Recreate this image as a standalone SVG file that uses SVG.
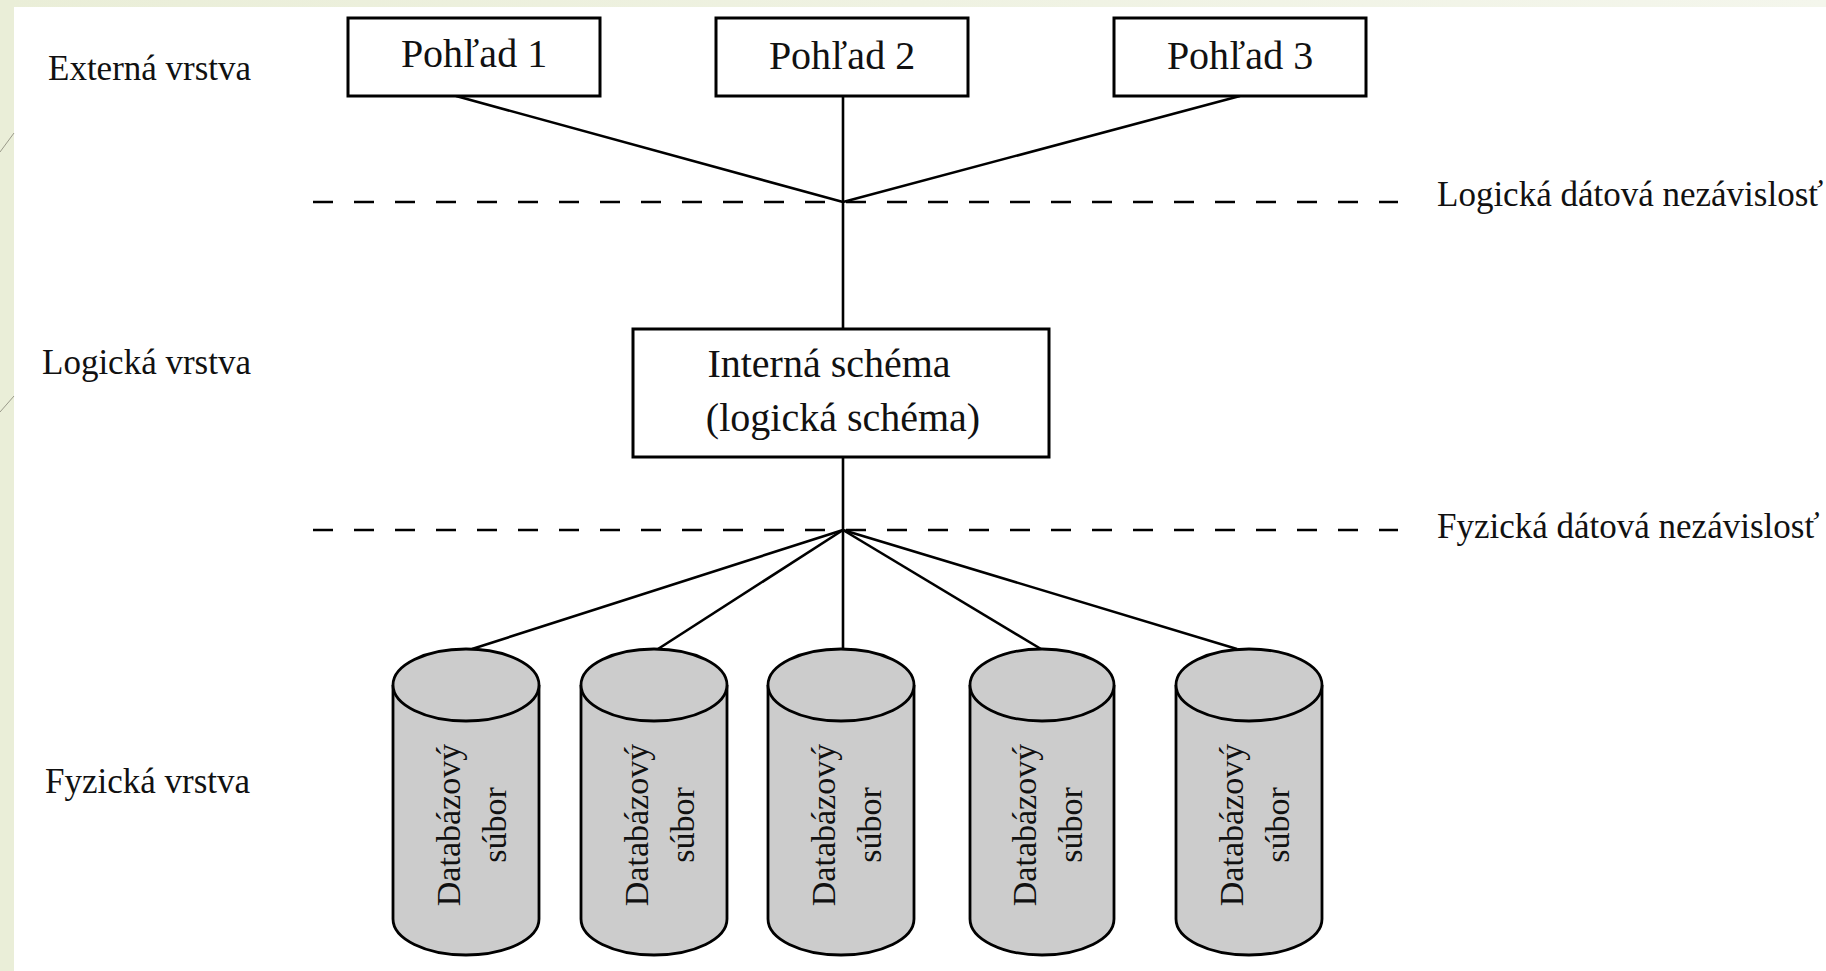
<svg xmlns="http://www.w3.org/2000/svg" width="1826" height="971" viewBox="0 0 1826 971">
<defs>
<linearGradient id="topband" x1="0" y1="0" x2="1" y2="0">
<stop offset="0" stop-color="#eaeed8"/>
<stop offset="1" stop-color="#f4f6ec"/>
</linearGradient>
</defs>
<style>
.t{font-family:"Liberation Serif","Times New Roman",serif;fill:#111}
.lbl{font-size:35px}
.box{fill:#fff;stroke:#000;stroke-width:3}
.conn{stroke:#000;stroke-width:2.6;fill:none}
.dash{stroke:#000;stroke-width:2.6;stroke-dasharray:20 21;fill:none}
.cyl{fill:#cccccc;stroke:#000;stroke-width:2.8}
.ctext{font-size:34px;text-anchor:middle}
.ntext{font-size:40px;text-anchor:middle}
</style>
<rect x="0" y="0" width="1826" height="971" fill="#fff"/>
<rect x="0" y="0" width="1826" height="7" fill="url(#topband)"/>
<rect x="0" y="0" width="14" height="971" fill="#eaeed8"/>
<line x1="0" y1="152" x2="14" y2="133" stroke="#9a9a8a" stroke-width="1"/>
<line x1="0" y1="412" x2="14" y2="396" stroke="#9a9a8a" stroke-width="1"/>

<g id="layer-labels">
<text class="t lbl" x="48" y="80">Externá vrstva</text>
<text class="t lbl" x="42" y="374">Logická vrstva</text>
<text class="t lbl" x="45" y="793">Fyzická vrstva</text>
<text class="t lbl" x="1437" y="206">Logická dátová nezávislosť</text>
<text class="t lbl" x="1437" y="538">Fyzická dátová nezávislosť</text>
</g>

<g id="connectors">
<line class="dash" x1="313" y1="202" x2="1398" y2="202"/>
<line class="dash" x1="313" y1="530" x2="1398" y2="530"/>
<line class="conn" x1="456" y1="96" x2="843" y2="202"/>
<line class="conn" x1="1240" y1="96" x2="843" y2="202"/>
<line class="conn" x1="843" y1="96" x2="843" y2="329"/>
<line class="conn" x1="843" y1="457" x2="843" y2="649"/>
<line class="conn" x1="843" y1="530" x2="472" y2="649"/>
<line class="conn" x1="843" y1="530" x2="658" y2="649"/>
<line class="conn" x1="843" y1="530" x2="1041" y2="649"/>
<line class="conn" x1="843" y1="530" x2="1237" y2="649"/>
</g>

<g id="pohlad1">
<rect class="box" x="348" y="18" width="252" height="78"/>
<text class="t ntext" x="474" y="67">Pohľad  1</text>
</g>
<g id="pohlad2">
<rect class="box" x="716" y="18" width="252" height="78"/>
<text class="t ntext" x="842" y="69">Pohľad 2</text>
</g>
<g id="pohlad3">
<rect class="box" x="1114" y="18" width="252" height="78"/>
<text class="t ntext" x="1240" y="69">Pohľad 3</text>
</g>

<g id="interna">
<rect class="box" x="633" y="329" width="416" height="128"/>
<text class="t ntext" x="829" y="377">Interná schéma</text>
<text class="t ntext" x="843" y="431">(logická schéma)</text>
</g>

<g id="subor1">
<path class="cyl" d="M393 685 A73 36 0 0 1 539 685 L539 919 A73 36 0 0 1 393 919 Z"/>
<path class="cyl" fill="none" d="M393 685 A73 36 0 0 0 539 685"/>
<g transform="translate(466,825) rotate(-90)"><text class="t ctext" x="0" y="-6">Databázový</text><text class="t ctext" x="0" y="40">súbor</text></g>
</g>
<g id="subor2">
<path class="cyl" d="M581 685 A73 36 0 0 1 727 685 L727 919 A73 36 0 0 1 581 919 Z"/>
<path class="cyl" fill="none" d="M581 685 A73 36 0 0 0 727 685"/>
<g transform="translate(654,825) rotate(-90)"><text class="t ctext" x="0" y="-6">Databázový</text><text class="t ctext" x="0" y="40">súbor</text></g>
</g>
<g id="subor3">
<path class="cyl" d="M768 685 A73 36 0 0 1 914 685 L914 919 A73 36 0 0 1 768 919 Z"/>
<path class="cyl" fill="none" d="M768 685 A73 36 0 0 0 914 685"/>
<g transform="translate(841,825) rotate(-90)"><text class="t ctext" x="0" y="-6">Databázový</text><text class="t ctext" x="0" y="40">súbor</text></g>
</g>
<g id="subor4">
<path class="cyl" d="M970 685 A72 36 0 0 1 1114 685 L1114 919 A72 36 0 0 1 970 919 Z"/>
<path class="cyl" fill="none" d="M970 685 A72 36 0 0 0 1114 685"/>
<g transform="translate(1042,825) rotate(-90)"><text class="t ctext" x="0" y="-6">Databázový</text><text class="t ctext" x="0" y="40">súbor</text></g>
</g>
<g id="subor5">
<path class="cyl" d="M1176 685 A73 36 0 0 1 1322 685 L1322 919 A73 36 0 0 1 1176 919 Z"/>
<path class="cyl" fill="none" d="M1176 685 A73 36 0 0 0 1322 685"/>
<g transform="translate(1249,825) rotate(-90)"><text class="t ctext" x="0" y="-6">Databázový</text><text class="t ctext" x="0" y="40">súbor</text></g>
</g>
</svg>
